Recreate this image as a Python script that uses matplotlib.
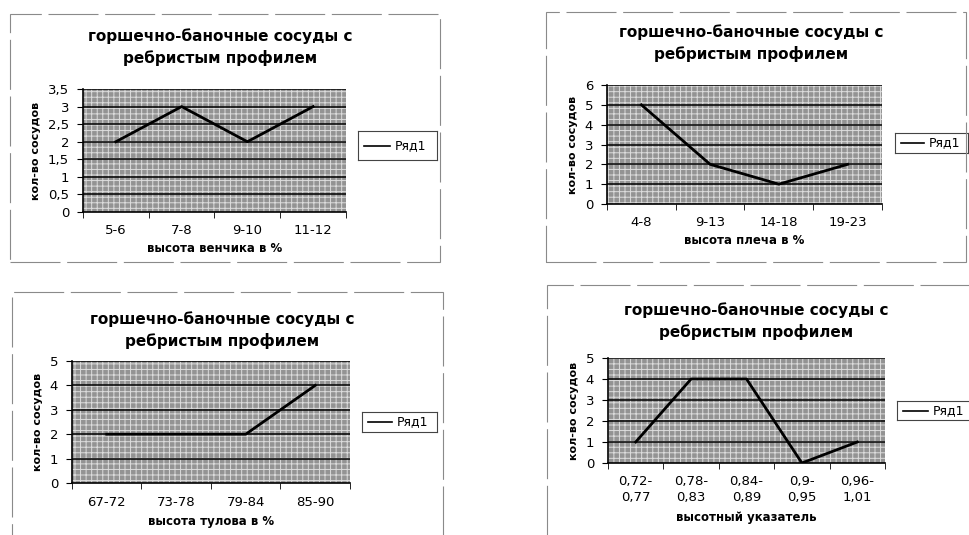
import matplotlib
matplotlib.use("Agg")
import matplotlib.pyplot as plt
from matplotlib.patches import Rectangle
import numpy as np

plt.rcParams['font.family'] = ['DejaVu Sans']
plt.rcParams['hatch.linewidth'] = 0.7

title = "горшечно-баночные сосуды с\nребристым профилем"
ylabel = "кол-во сосудов"
series_name = "Ряд1"

cats1 = ["5-6", "7-8", "9-10", "11-12"]
vals1 = [2, 3, 2, 3]
ticks1 = [0, 0.5, 1, 1.5, 2, 2.5, 3, 3.5]
xlab1 = "высота венчика в %"

cats2 = ["4-8", "9-13", "14-18", "19-23"]
vals2 = [5, 2, 1, 2]
ticks2 = [0, 1, 2, 3, 4, 5, 6]
xlab2 = "высота плеча в %"

cats3 = ["67-72", "73-78", "79-84", "85-90"]
vals3 = [2, 2, 2, 4]
ticks3 = [0, 1, 2, 3, 4, 5]
xlab3 = "высота тулова в %"

cats4 = ["0,72-\n0,77", "0,78-\n0,83", "0,84-\n0,89", "0,9-\n0,95", "0,96-\n1,01"]
vals4 = [1, 4, 4, 0, 1]
ticks4 = [0, 1, 2, 3, 4, 5]
xlab4 = "высотный указатель"

W, H = 970, 535
fig = plt.figure(figsize=(W / 100, H / 100), dpi=100)


def px(x0, y0, x1, y1):
    # pixel box (top-left origin) -> figure fraction rect
    return [x0 / W, 1 - y1 / H, (x1 - x0) / W, (y1 - y0) / H]


def panel(frame, plot, legend, title_y, cats, vals, ticks, xlab, xlab_y):
    fx0, fy0, fx1, fy1 = frame
    fig.add_artist(Rectangle((fx0 / W, 1 - fy1 / H), (fx1 - fx0) / W, (fy1 - fy0) / H,
                             transform=fig.transFigure, fill=False,
                             edgecolor='#8a8a8a', lw=0.8, linestyle=(0, (45, 6))))
    ax = fig.add_axes(px(*plot))
    ax.set_facecolor('#939393')
    ax.add_patch(Rectangle((0, 0), 1, 1, transform=ax.transAxes, facecolor='none',
                           hatch='+++', edgecolor='#dcdcdc', lw=0, zorder=0))
    x = np.arange(len(cats))
    ax.set_xlim(-0.5, len(cats) - 0.5)
    ax.set_ylim(ticks[0], ticks[-1])
    for t in ticks[1:]:
        ax.axhline(t, color='black', lw=1.1, zorder=1)
    ax.plot(x, vals, color='black', lw=2.0, zorder=3)
    ax.set_yticks(ticks)
    ax.set_yticklabels([str(t).replace('.', ',') for t in ticks], fontsize=9.5)
    ax.set_xticks(x)
    ax.set_xticklabels(cats, fontsize=9.5)
    ax.set_xticks(np.arange(len(cats) + 1) - 0.5, minor=True)
    ax.tick_params(axis='x', which='major', length=0, pad=9)
    ax.tick_params(axis='x', which='minor', length=4, direction='out')
    ax.tick_params(axis='y', length=4, direction='out', pad=6)
    for s in ['top', 'right']:
        ax.spines[s].set_visible(False)
    ax.spines['left'].set_linewidth(1.2)
    ax.spines['bottom'].set_linewidth(1.2)
    ax.set_ylabel(ylabel, fontsize=8, fontweight='bold', labelpad=5)
    cx = (fx0 + fx1) / 2 - 5
    fig.text(cx / W, 1 - title_y / H, title, ha='center', va='center',
             fontsize=11, fontweight='bold', linespacing=1.45)
    fig.text((plot[0] + plot[2]) / 2 / W, 1 - xlab_y / H, xlab, ha='center',
             va='center', fontsize=8.5, fontweight='bold')
    lx0, ly0, lx1, ly1 = legend
    lax = fig.add_axes(px(lx0, ly0, lx1, ly1))
    lax.set_xlim(0, 1)
    lax.set_ylim(0, 1)
    lax.set_xticks([])
    lax.set_yticks([])
    for s in lax.spines.values():
        s.set_linewidth(0.8)
        s.set_edgecolor('#444444')
    lax.plot([0.08, 0.4], [0.5, 0.5], color='black', lw=1.2)
    lax.text(0.46, 0.5, series_name, va='center', ha='left', fontsize=9)
    return ax


panel((10, 14, 440, 262), (83, 89, 346, 212), (358, 131, 437, 160), 47,
      cats1, vals1, ticks1, xlab1, 248)
panel((546, 12, 966, 262), (607, 85, 882, 204), (895, 133, 968, 153), 43,
      cats2, vals2, ticks2, xlab2, 240)
panel((12, 292, 443, 540), (72, 361, 350, 483), (362, 412, 437, 432), 330,
      cats3, vals3, ticks3, xlab3, 522)
panel((547, 285, 975, 540), (608, 358, 885, 463), (897, 401, 975, 420), 321,
      cats4, vals4, ticks4, xlab4, 518)

fig.savefig("out.png", dpi=100)
